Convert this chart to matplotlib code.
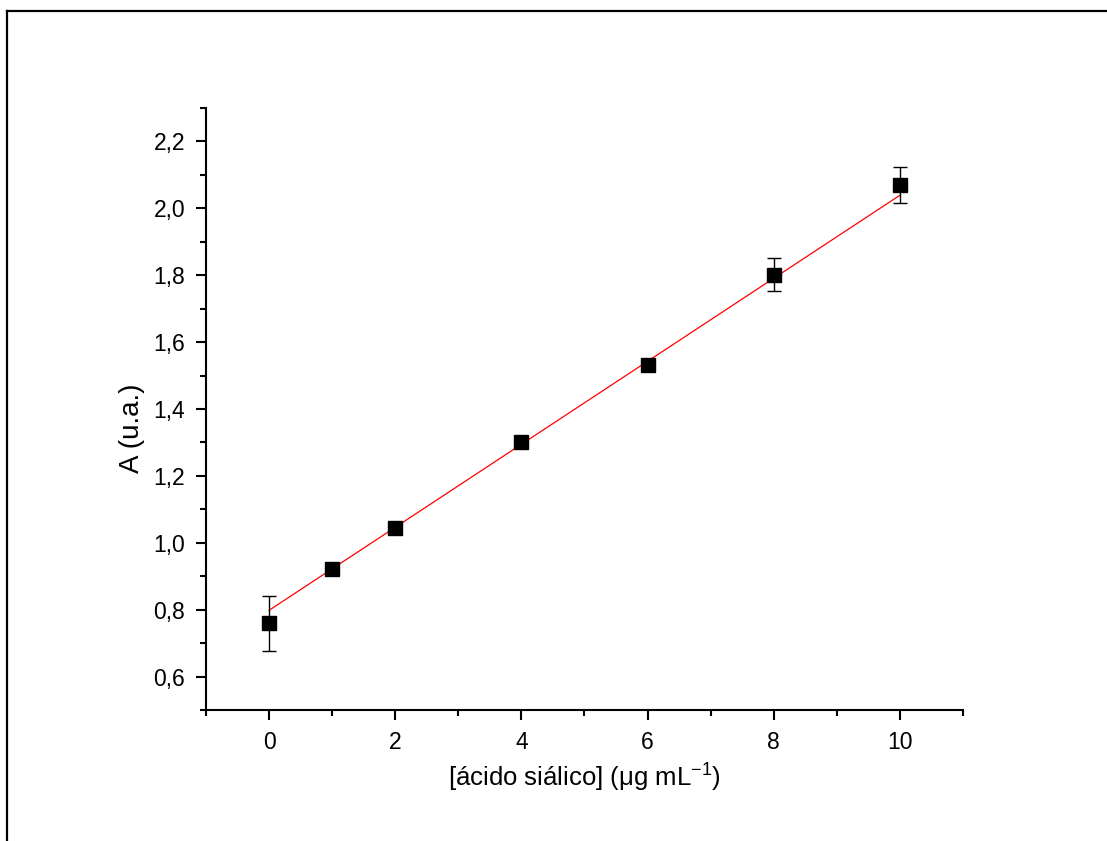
import numpy as np
import matplotlib
matplotlib.use("Agg")
import matplotlib.pyplot as plt
from matplotlib.lines import Line2D
from matplotlib.ticker import MultipleLocator, FuncFormatter

plt.rcParams['font.family'] = ['Liberation Sans', 'DejaVu Sans']
plt.rcParams['mathtext.default'] = 'regular'

# datos
conc = [0, 1, 2, 4, 6, 8, 10]
absorb = [0.759, 0.921, 1.043, 1.301, 1.532, 1.801, 2.071]
err = [0.082, 0.017, 0.005, 0.005, 0.005, 0.049, 0.054]

# recta de ajuste (intercepto, pendiente)
fit_intercept = 0.798
fit_slope = 0.1241
fit_range = [0, 10]

fig = plt.figure(figsize=(11.07, 8.41), dpi=100)
ax = fig.add_axes([0.1861, 0.1558, 0.6838, 0.7158])

xf = np.array(fit_range, dtype=float)
ax.plot(xf, fit_intercept + fit_slope * xf, color='red', lw=0.9, zorder=2)
ax.errorbar(conc, absorb, yerr=err, fmt='s', color='black', ms=9.5,
            ecolor='black', elinewidth=1.0, capsize=5, capthick=1.0, zorder=3)

ax.set_xlim(-1, 11)
ax.set_ylim(0.5, 2.3)
ax.xaxis.set_major_locator(MultipleLocator(2))
ax.xaxis.set_minor_locator(MultipleLocator(1))
ax.yaxis.set_major_locator(MultipleLocator(0.2))
ax.yaxis.set_minor_locator(MultipleLocator(0.1))
ax.yaxis.set_major_formatter(FuncFormatter(lambda v, p: f"{v:.1f}".replace('.', ',')))

for s in ['top', 'right']:
    ax.spines[s].set_visible(False)
for s in ['left', 'bottom']:
    ax.spines[s].set_linewidth(1.5)
ax.tick_params(which='major', direction='out', length=7, width=1.5, labelsize=16.5, pad=8)
ax.tick_params(which='minor', direction='out', length=4, width=1.5)

ax.set_xlabel("[ácido siálico] (μg mL$^{-1}$)", fontsize=18.5, labelpad=6)
ax.set_ylabel("A (u.a.)", fontsize=20)
ax.yaxis.set_label_coords(-0.08, 0.468)

# marco de la figura
fig.add_artist(Line2D([0.0063, 0.0063], [0, 0.9869], color='black', lw=1.6))
fig.add_artist(Line2D([0.0063, 1.0], [0.9869, 0.9869], color='black', lw=1.6))

fig.savefig("out.png", dpi=100)
